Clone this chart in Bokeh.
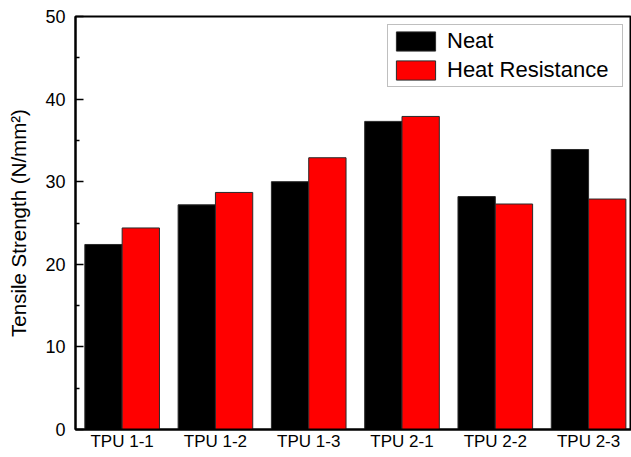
from bokeh.plotting import figure
from bokeh.models import (Range1d, FixedTicker, Legend, LegendItem, ColumnDataSource)
from bokeh.transform import dodge
from bokeh.embed import file_html
from bokeh.resources import INLINE

categories = ["TPU 1-1", "TPU 1-2", "TPU 1-3", "TPU 2-1", "TPU 2-2", "TPU 2-3"]
positions = [1, 2, 3, 4, 5, 6]
neat = [22.4, 27.2, 30.0, 37.3, 28.2, 33.9]
heat_resistance = [24.4, 28.7, 32.9, 37.9, 27.3, 27.9]
y_ticks = [0, 10, 20, 30, 40, 50]
y_minor_ticks = [5, 15, 25, 35, 45]

FONT = "Liberation Sans"

source = ColumnDataSource(dict(x=positions, neat=neat, heat=heat_resistance))

p = figure(width=631, height=457, output_backend="svg", toolbar_location=None,
           x_range=Range1d(0.5, 6.46), y_range=Range1d(0, 50),
           min_border_left=75, min_border_top=16, min_border_right=0,
           min_border_bottom=28)

r1 = p.vbar(x=dodge("x", -0.2, range=p.x_range), top="neat", width=0.4,
            source=source, fill_color="#000000", line_color="#2a2a2a", line_width=1)
r2 = p.vbar(x=dodge("x", 0.2, range=p.x_range), top="heat", width=0.4,
            source=source, fill_color="#ff0000", line_color="#2a2a2a", line_width=1)

p.xgrid.visible = False
p.ygrid.visible = False
p.outline_line_color = "black"
p.outline_line_width = 2
p.background_fill_color = "white"
p.border_fill_color = "white"

# x axis
xa = p.xaxis[0]
xa.ticker = FixedTicker(ticks=positions)
xa.major_label_overrides = {pos: cat for pos, cat in zip(positions, categories)}
xa.major_tick_in = 0
xa.major_tick_out = 0
xa.minor_tick_line_color = None
xa.axis_line_width = 2
xa.axis_line_color = "black"
xa.major_label_text_font = FONT
xa.major_label_text_font_size = "17px"
xa.major_label_text_color = "black"
xa.major_label_standoff = 2

# y axis
ya = p.yaxis[0]
ya.ticker = FixedTicker(ticks=y_ticks, minor_ticks=y_minor_ticks)
ya.major_tick_in = 8
ya.major_tick_out = 0
ya.minor_tick_in = 4
ya.minor_tick_out = 0
ya.major_tick_line_width = 1.5
ya.minor_tick_line_width = 1.5
ya.major_tick_line_color = "black"
ya.minor_tick_line_color = "black"
ya.axis_line_width = 2
ya.axis_line_color = "black"
ya.major_label_text_font = FONT
ya.major_label_text_font_size = "18px"
ya.major_label_text_color = "black"
ya.major_label_standoff = 10
ya.axis_label = "Tensile Strength (N/mm²)"
ya.axis_label_text_font = FONT
ya.axis_label_text_font_size = "20.5px"
ya.axis_label_text_font_style = "normal"
ya.axis_label_text_color = "black"
ya.axis_label_standoff = 12

legend = Legend(items=[LegendItem(label="Neat", renderers=[r1]),
                       LegendItem(label="Heat Resistance", renderers=[r2])],
                location=(312, 342))
legend.label_text_font = FONT
legend.label_text_font_size = "22px"
legend.label_text_color = "black"
legend.glyph_width = 49
legend.glyph_height = 24
legend.label_height = 24
legend.label_width = 172
legend.label_standoff = 7
legend.padding = 3
legend.spacing = 3
legend.margin = 0
legend.border_line_color = "#7f7f7f"
legend.border_line_width = 1.5
legend.background_fill_color = "white"
legend.background_fill_alpha = 1
p.add_layout(legend)

open("out.html", "w").write(file_html(p, INLINE))
